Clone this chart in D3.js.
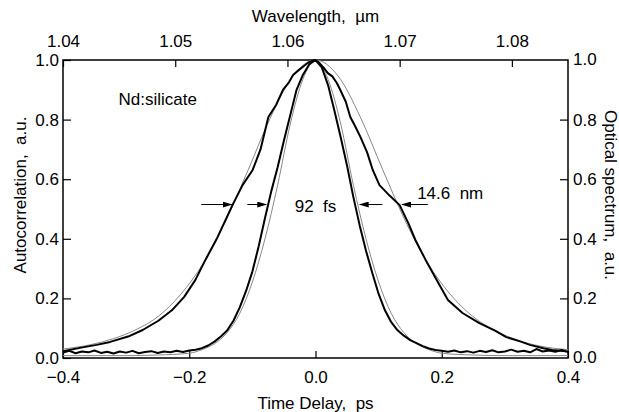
<!DOCTYPE html>
<html>
<head>
<meta charset="utf-8">
<script src="https://cdn.jsdelivr.net/npm/d3@7"></script>
<style>
  body { margin: 0; background: #fff; }
  svg text { font-family: "Liberation Sans", Arial, sans-serif; fill: #000; white-space: pre; }
</style>
</head>
<body>
<div id="chart"></div>
<script>
// axis ticks
var timeTicks = [-0.4, -0.2, 0.0, 0.2, 0.4];
var wlTicks = [1.04, 1.05, 1.06, 1.07, 1.08];
var yTicks = [0.0, 0.2, 0.4, 0.6, 0.8, 1.0];

// measured autocorrelation (ps, a.u.)
var acDelay = [-0.40,-0.39,-0.38,-0.37,-0.36,-0.35,-0.34,-0.33,-0.32,-0.31,-0.30,-0.29,-0.28,-0.27,-0.26,-0.25,-0.24,-0.23,-0.22,-0.21,-0.20,
  -0.19,-0.18,-0.17,-0.16,-0.15,-0.14,-0.13,-0.12,-0.11,-0.10,-0.09,-0.08,-0.07,-0.06,-0.05,-0.04,-0.03,-0.02,-0.01,0.00,
  0.01,0.02,0.03,0.04,0.05,0.06,0.07,0.08,0.09,0.10,0.11,0.12,0.13,0.14,0.15,0.16,0.17,0.18,0.19,0.20,
  0.21,0.22,0.23,0.24,0.25,0.26,0.27,0.28,0.29,0.30,0.31,0.32,0.33,0.34,0.35,0.36,0.37,0.38,0.39,0.40];
var acValue = [0.018,0.024,0.016,0.022,0.019,0.025,0.017,0.021,0.015,0.022,0.018,0.024,0.016,0.020,0.023,0.017,0.022,0.019,0.024,0.020,0.025,
  0.028,0.033,0.042,0.055,0.072,0.092,0.125,0.170,0.225,0.290,0.375,0.470,0.560,0.640,0.730,0.815,0.900,0.950,0.985,1.000,
  0.975,0.915,0.830,0.740,0.645,0.540,0.445,0.360,0.285,0.215,0.160,0.120,0.093,0.075,0.060,0.050,0.040,0.032,0.027,0.024,
  0.021,0.025,0.019,0.023,0.018,0.024,0.020,0.026,0.019,0.022,0.028,0.021,0.024,0.019,0.030,0.022,0.025,0.021,0.027,0.020];

// sech^2 fit to autocorrelation
var acFitDelay = [-0.40,-0.30,-0.25,-0.20,-0.18,-0.16,-0.14,-0.12,-0.10,-0.08,-0.06,-0.04,-0.02,0.00,0.02,0.04,0.06,0.08,0.10,0.12,0.14,0.16,0.18,0.20,0.25,0.30,0.40];
var acFitValue = [0.008,0.008,0.010,0.016,0.028,0.048,0.085,0.150,0.255,0.400,0.580,0.785,0.935,1.000,0.935,0.785,0.580,0.400,0.255,0.150,0.085,0.048,0.028,0.016,0.010,0.008,0.008];

// measured optical spectrum (um, a.u.)
var specWl = [1.0400,1.0415,1.0430,1.0442,1.0458,1.0471,1.0485,1.0497,1.0508,1.0518,1.0527,1.0537,1.0551,1.0560,1.0569,1.0576,1.0583,1.0590,1.0596,1.0601,1.0605,1.0610,1.0613,1.0618,1.0624,
  1.0628,1.0632,1.0636,1.0640,1.0644,1.0647,1.0652,1.0656,1.0660,1.0665,1.0671,1.0676,1.0682,1.0691,1.0700,1.0708,1.0714,1.0723,1.0733,1.0743,1.0756,1.0771,1.0785,1.0795,1.0808,1.0816,1.0828,1.0836,1.0848];
var specValue = [0.023,0.034,0.044,0.054,0.072,0.094,0.125,0.160,0.205,0.262,0.330,0.400,0.513,0.580,0.631,0.700,0.809,0.850,0.900,0.923,0.950,0.966,0.975,0.990,1.000,
  0.992,0.975,0.956,0.945,0.923,0.900,0.860,0.809,0.780,0.742,0.690,0.631,0.580,0.545,0.513,0.450,0.396,0.330,0.262,0.195,0.151,0.117,0.092,0.070,0.055,0.044,0.033,0.027,0.023];

// sech^2 fit to spectrum
var specFitWl = [1.0400,1.0425,1.0445,1.0465,1.0485,1.0505,1.0525,1.0545,1.0565,1.0585,1.0605,1.0625,1.0645,1.0665,1.0685,1.0705,1.0725,1.0745,1.0765,1.0785,1.0805,1.0825,1.0850];
var specFitValue = [0.030,0.045,0.065,0.095,0.140,0.214,0.318,0.460,0.631,0.808,0.947,1.000,0.947,0.808,0.631,0.460,0.318,0.214,0.140,0.092,0.060,0.040,0.028];

// FWHM marker arrows: [tail delay, head delay] at the half-maximum level
var arrowLevel = 0.515;
var arrowTail = [-0.181, -0.108, 0.106, 0.178];
var arrowHead = [-0.133, -0.078, 0.070, 0.137];

var W = 619, H = 412;
var margin = { top: 60, left: 63, right: 51, bottom: 54 };
var plotW = W - margin.left - margin.right;
var plotH = H - margin.top - margin.bottom;
var fs = "17px";

var svg = d3.select("#chart").append("svg")
  .attr("width", W)
  .attr("height", H);

var g = svg.append("g")
  .attr("transform", "translate(" + margin.left + "," + margin.top + ")");

var x = d3.scaleLinear().domain([-0.4, 0.4]).range([0, plotW]);
var xw = d3.scaleLinear().domain([1.04, 1.085]).range([0, plotW]);
var y = d3.scaleLinear().domain([0, 1]).range([plotH, 0]);

// axes, ticks pointing inward
function styleAxis(sel) {
  sel.select(".domain").remove();
  sel.selectAll(".tick line").attr("stroke", "#000").attr("stroke-width", 1.2);
  sel.selectAll(".tick text").style("font-size", fs).style("font-family", "Liberation Sans, Arial, sans-serif");
}

g.append("g")
  .attr("transform", "translate(0," + plotH + ")")
  .call(d3.axisBottom(x).tickValues(timeTicks).tickFormat(d3.format(".1f")).tickSizeInner(-7).tickPadding(13))
  .call(styleAxis);

g.append("g")
  .call(d3.axisTop(xw).tickValues(wlTicks).tickFormat(d3.format(".2f")).tickSizeInner(-7).tickPadding(13))
  .call(styleAxis);

g.append("g")
  .call(d3.axisLeft(y).tickValues(yTicks).tickFormat(d3.format(".1f")).tickSizeInner(-8).tickPadding(3))
  .call(styleAxis)
  .selectAll(".tick text").attr("x", -4);

g.append("g")
  .attr("transform", "translate(" + plotW + ",0)")
  .call(d3.axisRight(y).tickValues(yTicks.filter(function(d) { return d > 0 && d < 1; })).tickFormat(d3.format(".1f")).tickSizeInner(-8).tickPadding(0))
  .call(styleAxis)
  .selectAll(".tick text").attr("x", 5);

// right labels for 0.0 and 1.0 without ticks
g.selectAll(".rEnd")
  .data([0, 1])
  .enter()
  .append("text")
  .attr("class", "rEnd")
  .attr("x", plotW + 5)
  .attr("y", function(d) { return y(d); })
  .attr("dy", "0.32em")
  .style("font-size", fs)
  .text(function(d) { return d3.format(".1f")(d); });

// frame
g.append("rect")
  .attr("x", 0).attr("y", 0)
  .attr("width", plotW).attr("height", plotH)
  .attr("fill", "none")
  .attr("stroke", "#000")
  .attr("stroke-width", 1.5);

// fits (thin grey)
var acFitLine = d3.line()
  .x(function(d, i) { return x(acFitDelay[i]); })
  .y(function(d) { return y(d); })
  .curve(d3.curveMonotoneX);

var specFitLine = d3.line()
  .x(function(d, i) { return xw(specFitWl[i]); })
  .y(function(d) { return y(d); })
  .curve(d3.curveMonotoneX);

g.append("path")
  .attr("d", acFitLine(acFitValue))
  .attr("fill", "none")
  .attr("stroke", "#888")
  .attr("stroke-width", 1);

g.append("path")
  .attr("d", specFitLine(specFitValue))
  .attr("fill", "none")
  .attr("stroke", "#888")
  .attr("stroke-width", 1);

// measured curves (thick black)
var acLine = d3.line()
  .x(function(d, i) { return x(acDelay[i]); })
  .y(function(d) { return y(d); });

var specLine = d3.line()
  .x(function(d, i) { return xw(specWl[i]); })
  .y(function(d) { return y(d); });

g.append("path")
  .attr("d", acLine(acValue))
  .attr("fill", "none")
  .attr("stroke", "#000")
  .attr("stroke-width", 2)
  .attr("stroke-linejoin", "round");

g.append("path")
  .attr("d", specLine(specValue))
  .attr("fill", "none")
  .attr("stroke", "#000")
  .attr("stroke-width", 2)
  .attr("stroke-linejoin", "round");

// arrows
svg.append("defs")
  .append("marker")
  .attr("id", "arrowhead")
  .attr("refX", 9)
  .attr("refY", 3)
  .attr("markerWidth", 10)
  .attr("markerHeight", 6)
  .attr("markerUnits", "userSpaceOnUse")
  .attr("orient", "auto")
  .append("path")
  .attr("d", "M 0,0 L 10,3 L 0,6 Z")
  .attr("fill", "black");

g.selectAll(".arrow")
  .data(arrowTail)
  .enter()
  .append("line")
  .attr("class", "arrow")
  .attr("x1", function(d) { return x(d); })
  .attr("y1", y(arrowLevel))
  .attr("x2", function(d, i) { return x(arrowHead[i]); })
  .attr("y2", y(arrowLevel))
  .attr("stroke", "black")
  .attr("stroke-width", 1)
  .attr("marker-end", "url(#arrowhead)");

// annotations
g.append("text")
  .attr("x", x(0))
  .attr("y", y(arrowLevel) + 7)
  .attr("text-anchor", "middle")
  .style("font-size", fs)
  .text("92  fs");

g.append("text")
  .attr("x", x(0.161))
  .attr("y", y(0.535))
  .style("font-size", fs)
  .text("14.6  nm");

g.append("text")
  .attr("x", x(-0.25))
  .attr("y", y(0.849))
  .attr("text-anchor", "middle")
  .style("font-size", fs)
  .text("Nd:silicate");

// axis titles
svg.append("text")
  .attr("x", margin.left + plotW / 2)
  .attr("y", 22)
  .attr("text-anchor", "middle")
  .style("font-size", fs)
  .text("Wavelength,  \u00b5m");

svg.append("text")
  .attr("x", margin.left + plotW / 2)
  .attr("y", 409)
  .attr("text-anchor", "middle")
  .style("font-size", fs)
  .text("Time Delay,  ps");

svg.append("text")
  .attr("transform", "translate(26,195) rotate(-90)")
  .attr("text-anchor", "middle")
  .style("font-size", fs)
  .text("Autocorrelation,  a.u.");

svg.append("text")
  .attr("transform", "translate(605,195) rotate(90)")
  .attr("text-anchor", "middle")
  .style("font-size", fs)
  .text("Optical spectrum,  a.u.");
</script>
</body>
</html>
